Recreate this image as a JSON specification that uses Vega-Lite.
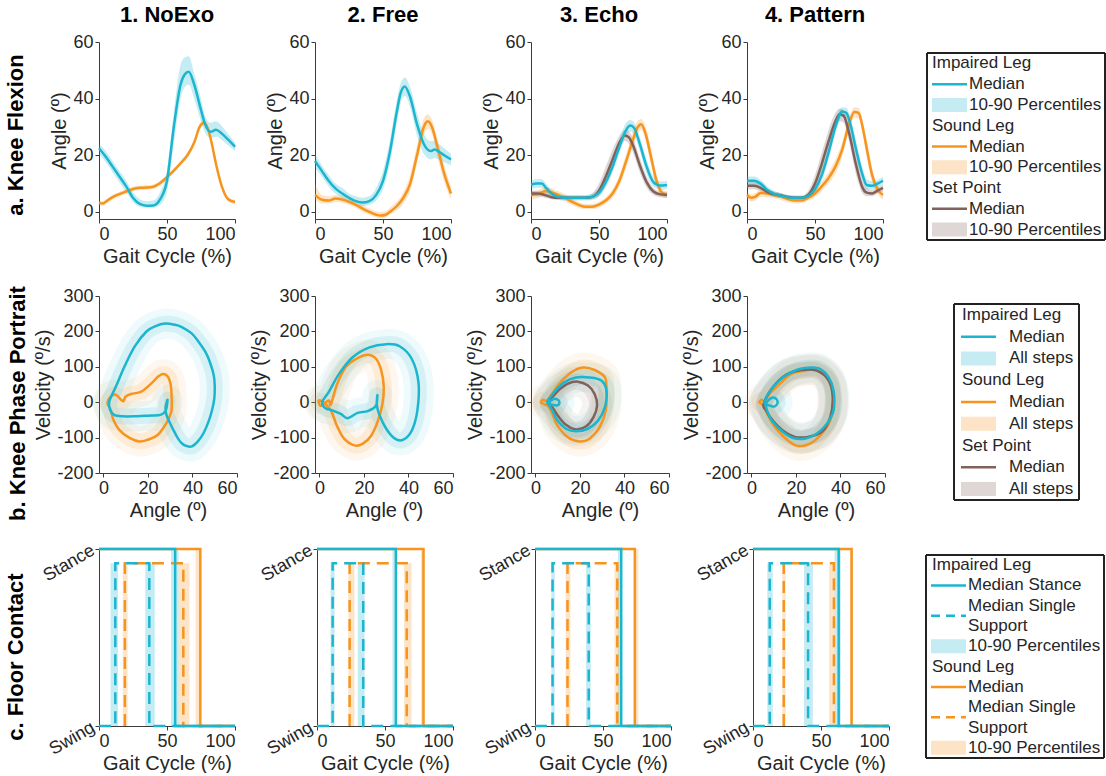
{
"$schema": "https://vega.github.io/schema/vega-lite/v6.json",
"background": "white",
"padding": {"left": 4, "top": 4, "right": 0, "bottom": 0},
"config": {
 "font": "Liberation Sans",
 "view": {"stroke": null},
 "axis": {"grid": false, "domainColor": "#3a3a3a", "tickColor": "#3a3a3a", "tickSize": 4, "labelColor": "#262626", "titleColor": "#262626", "labelFontSize": 18, "titleFontSize": 20, "titleFontWeight": "normal", "labelPadding": 2, "titlePadding": 3, "labelFont": "Liberation Sans", "titleFont": "Liberation Sans"},
 "title": {"font": "Liberation Sans", "fontSize": 22, "fontWeight": "bold", "color": "#000000"},
 "text": {"font": "Liberation Sans"}
},
"datasets": {
 "kf": [
  {"p":"1. NoExo","s":"Sound","x":0,"y":3.2,"lo":2.4,"hi":4},
  {"p":"1. NoExo","s":"Sound","x":3,"y":3.0,"lo":2.2,"hi":3.8},
  {"p":"1. NoExo","s":"Sound","x":5,"y":3.6,"lo":2.8,"hi":4.4},
  {"p":"1. NoExo","s":"Sound","x":10,"y":5.2,"lo":4.4,"hi":6},
  {"p":"1. NoExo","s":"Sound","x":15,"y":6.3,"lo":5.5,"hi":7.1},
  {"p":"1. NoExo","s":"Sound","x":20,"y":7.2,"lo":6.4,"hi":8},
  {"p":"1. NoExo","s":"Sound","x":25,"y":8.1,"lo":7.3,"hi":8.9},
  {"p":"1. NoExo","s":"Sound","x":30,"y":8.5,"lo":7.7,"hi":9.3},
  {"p":"1. NoExo","s":"Sound","x":35,"y":8.6,"lo":7.8,"hi":9.4},
  {"p":"1. NoExo","s":"Sound","x":40,"y":8.9,"lo":8.1,"hi":9.7},
  {"p":"1. NoExo","s":"Sound","x":45,"y":10.2,"lo":9.4,"hi":11},
  {"p":"1. NoExo","s":"Sound","x":50,"y":12.3,"lo":11.5,"hi":13.1},
  {"p":"1. NoExo","s":"Sound","x":55,"y":14.6,"lo":13.8,"hi":15.4},
  {"p":"1. NoExo","s":"Sound","x":60,"y":17.2,"lo":16.4,"hi":18},
  {"p":"1. NoExo","s":"Sound","x":65,"y":20,"lo":19.2,"hi":20.8},
  {"p":"1. NoExo","s":"Sound","x":70,"y":24.5,"lo":23.5,"hi":25.5},
  {"p":"1. NoExo","s":"Sound","x":74,"y":30,"lo":29,"hi":31},
  {"p":"1. NoExo","s":"Sound","x":77,"y":31.5,"lo":30.5,"hi":32.5},
  {"p":"1. NoExo","s":"Sound","x":80,"y":29.5,"lo":28.5,"hi":30.5},
  {"p":"1. NoExo","s":"Sound","x":83,"y":24,"lo":23,"hi":25},
  {"p":"1. NoExo","s":"Sound","x":86,"y":17,"lo":16,"hi":18},
  {"p":"1. NoExo","s":"Sound","x":90,"y":9.5,"lo":8.7,"hi":10.3},
  {"p":"1. NoExo","s":"Sound","x":95,"y":4.5,"lo":3.7,"hi":5.3},
  {"p":"1. NoExo","s":"Sound","x":100,"y":3.5,"lo":2.7,"hi":4.3},
  {"p":"1. NoExo","s":"Impaired","x":0,"y":22.5,"lo":20.5,"hi":24},
  {"p":"1. NoExo","s":"Impaired","x":5,"y":19.5,"lo":17.5,"hi":21.5},
  {"p":"1. NoExo","s":"Impaired","x":10,"y":16,"lo":14,"hi":18},
  {"p":"1. NoExo","s":"Impaired","x":15,"y":12.5,"lo":10.5,"hi":14.5},
  {"p":"1. NoExo","s":"Impaired","x":20,"y":9,"lo":7,"hi":11},
  {"p":"1. NoExo","s":"Impaired","x":25,"y":5,"lo":3.5,"hi":7},
  {"p":"1. NoExo","s":"Impaired","x":30,"y":2.8,"lo":1.8,"hi":4.5},
  {"p":"1. NoExo","s":"Impaired","x":35,"y":2.2,"lo":1.5,"hi":3.8},
  {"p":"1. NoExo","s":"Impaired","x":40,"y":2.3,"lo":1.5,"hi":4},
  {"p":"1. NoExo","s":"Impaired","x":45,"y":4.5,"lo":2.5,"hi":7},
  {"p":"1. NoExo","s":"Impaired","x":50,"y":11,"lo":7,"hi":15},
  {"p":"1. NoExo","s":"Impaired","x":55,"y":30,"lo":24,"hi":35},
  {"p":"1. NoExo","s":"Impaired","x":60,"y":45,"lo":40,"hi":52},
  {"p":"1. NoExo","s":"Impaired","x":63,"y":48.5,"lo":44,"hi":54.5},
  {"p":"1. NoExo","s":"Impaired","x":66,"y":49.5,"lo":45,"hi":55},
  {"p":"1. NoExo","s":"Impaired","x":70,"y":45,"lo":40,"hi":49},
  {"p":"1. NoExo","s":"Impaired","x":75,"y":36,"lo":32,"hi":40},
  {"p":"1. NoExo","s":"Impaired","x":78,"y":31,"lo":28,"hi":34},
  {"p":"1. NoExo","s":"Impaired","x":82,"y":28.3,"lo":26,"hi":31.5},
  {"p":"1. NoExo","s":"Impaired","x":86,"y":29,"lo":26.5,"hi":32},
  {"p":"1. NoExo","s":"Impaired","x":90,"y":27.8,"lo":25.5,"hi":30.5},
  {"p":"1. NoExo","s":"Impaired","x":95,"y":25.5,"lo":23.5,"hi":27.5},
  {"p":"1. NoExo","s":"Impaired","x":100,"y":23,"lo":21.5,"hi":24.5},

  {"p":"2. Free","s":"Sound","x":0,"y":6,"lo":4.5,"hi":10},
  {"p":"2. Free","s":"Sound","x":5,"y":4.3,"lo":3,"hi":6},
  {"p":"2. Free","s":"Sound","x":10,"y":4,"lo":3,"hi":5.5},
  {"p":"2. Free","s":"Sound","x":15,"y":4.7,"lo":3.5,"hi":6},
  {"p":"2. Free","s":"Sound","x":20,"y":4.4,"lo":3.2,"hi":5.7},
  {"p":"2. Free","s":"Sound","x":25,"y":3.6,"lo":2.5,"hi":5},
  {"p":"2. Free","s":"Sound","x":30,"y":2.5,"lo":1.5,"hi":3.8},
  {"p":"2. Free","s":"Sound","x":35,"y":1.2,"lo":0,"hi":2.5},
  {"p":"2. Free","s":"Sound","x":40,"y":0,"lo":-1,"hi":1.2},
  {"p":"2. Free","s":"Sound","x":45,"y":-1,"lo":-2,"hi":0.2},
  {"p":"2. Free","s":"Sound","x":48,"y":-1.3,"lo":-2.3,"hi":0},
  {"p":"2. Free","s":"Sound","x":52,"y":-1,"lo":-2,"hi":0.3},
  {"p":"2. Free","s":"Sound","x":55,"y":0,"lo":-1,"hi":1.5},
  {"p":"2. Free","s":"Sound","x":60,"y":2,"lo":0.5,"hi":3.5},
  {"p":"2. Free","s":"Sound","x":65,"y":5,"lo":3,"hi":7},
  {"p":"2. Free","s":"Sound","x":70,"y":10,"lo":7.5,"hi":13},
  {"p":"2. Free","s":"Sound","x":75,"y":20,"lo":17,"hi":23.5},
  {"p":"2. Free","s":"Sound","x":80,"y":30,"lo":27,"hi":33},
  {"p":"2. Free","s":"Sound","x":83,"y":32,"lo":29.5,"hi":34.5},
  {"p":"2. Free","s":"Sound","x":86,"y":30,"lo":27.5,"hi":32.5},
  {"p":"2. Free","s":"Sound","x":90,"y":23,"lo":19.5,"hi":26},
  {"p":"2. Free","s":"Sound","x":95,"y":13.5,"lo":10.5,"hi":16.5},
  {"p":"2. Free","s":"Sound","x":100,"y":6.5,"lo":4.5,"hi":9},
  {"p":"2. Free","s":"Impaired","x":0,"y":18,"lo":15.5,"hi":20.5},
  {"p":"2. Free","s":"Impaired","x":5,"y":14.5,"lo":12.5,"hi":16.5},
  {"p":"2. Free","s":"Impaired","x":10,"y":11,"lo":9,"hi":13},
  {"p":"2. Free","s":"Impaired","x":15,"y":8.3,"lo":6.5,"hi":10},
  {"p":"2. Free","s":"Impaired","x":20,"y":6.5,"lo":5,"hi":8.5},
  {"p":"2. Free","s":"Impaired","x":25,"y":5,"lo":3.5,"hi":6.5},
  {"p":"2. Free","s":"Impaired","x":30,"y":3.8,"lo":2.5,"hi":5.5},
  {"p":"2. Free","s":"Impaired","x":35,"y":3.3,"lo":2,"hi":5},
  {"p":"2. Free","s":"Impaired","x":40,"y":3.8,"lo":2.5,"hi":5.5},
  {"p":"2. Free","s":"Impaired","x":45,"y":6,"lo":4,"hi":8.5},
  {"p":"2. Free","s":"Impaired","x":50,"y":11,"lo":8,"hi":14.5},
  {"p":"2. Free","s":"Impaired","x":55,"y":21,"lo":17,"hi":25},
  {"p":"2. Free","s":"Impaired","x":60,"y":35,"lo":31,"hi":39},
  {"p":"2. Free","s":"Impaired","x":63,"y":42,"lo":38.5,"hi":45.5},
  {"p":"2. Free","s":"Impaired","x":66,"y":44.3,"lo":41,"hi":47.5},
  {"p":"2. Free","s":"Impaired","x":70,"y":40.5,"lo":37,"hi":44},
  {"p":"2. Free","s":"Impaired","x":75,"y":31,"lo":27,"hi":35},
  {"p":"2. Free","s":"Impaired","x":80,"y":24,"lo":20.5,"hi":27.5},
  {"p":"2. Free","s":"Impaired","x":85,"y":21.5,"lo":18.5,"hi":25},
  {"p":"2. Free","s":"Impaired","x":88,"y":22,"lo":19,"hi":25},
  {"p":"2. Free","s":"Impaired","x":91,"y":21.3,"lo":18.5,"hi":24},
  {"p":"2. Free","s":"Impaired","x":95,"y":20,"lo":17.5,"hi":22.5},
  {"p":"2. Free","s":"Impaired","x":100,"y":18.5,"lo":16.5,"hi":20.5},

  {"p":"3. Echo","s":"Sound","x":0,"y":6,"lo":4.5,"hi":7.5},
  {"p":"3. Echo","s":"Sound","x":5,"y":6.2,"lo":4.8,"hi":7.6},
  {"p":"3. Echo","s":"Sound","x":10,"y":7.3,"lo":6,"hi":8.7},
  {"p":"3. Echo","s":"Sound","x":15,"y":7,"lo":5.6,"hi":8.4},
  {"p":"3. Echo","s":"Sound","x":20,"y":6,"lo":4.7,"hi":7.3},
  {"p":"3. Echo","s":"Sound","x":25,"y":5,"lo":3.7,"hi":6.3},
  {"p":"3. Echo","s":"Sound","x":30,"y":3.6,"lo":2.4,"hi":4.8},
  {"p":"3. Echo","s":"Sound","x":35,"y":2.5,"lo":1.5,"hi":3.5},
  {"p":"3. Echo","s":"Sound","x":40,"y":1.8,"lo":1,"hi":2.8},
  {"p":"3. Echo","s":"Sound","x":45,"y":1.8,"lo":1,"hi":2.8},
  {"p":"3. Echo","s":"Sound","x":50,"y":2.6,"lo":1.6,"hi":3.6},
  {"p":"3. Echo","s":"Sound","x":55,"y":4,"lo":2.8,"hi":5.2},
  {"p":"3. Echo","s":"Sound","x":60,"y":6.5,"lo":5,"hi":8},
  {"p":"3. Echo","s":"Sound","x":65,"y":11,"lo":9,"hi":13},
  {"p":"3. Echo","s":"Sound","x":70,"y":18,"lo":15.5,"hi":20.5},
  {"p":"3. Echo","s":"Sound","x":75,"y":25.5,"lo":23,"hi":28},
  {"p":"3. Echo","s":"Sound","x":78,"y":29.5,"lo":27,"hi":31.8},
  {"p":"3. Echo","s":"Sound","x":81,"y":31,"lo":29,"hi":32.8},
  {"p":"3. Echo","s":"Sound","x":84,"y":28,"lo":25.5,"hi":30.5},
  {"p":"3. Echo","s":"Sound","x":88,"y":20,"lo":17,"hi":23},
  {"p":"3. Echo","s":"Sound","x":92,"y":11.5,"lo":9.5,"hi":14},
  {"p":"3. Echo","s":"Sound","x":96,"y":7,"lo":5.5,"hi":8.5},
  {"p":"3. Echo","s":"Sound","x":100,"y":6,"lo":4.8,"hi":7.2},
  {"p":"3. Echo","s":"SetPoint","x":0,"y":6.5,"lo":5.5,"hi":7.5},
  {"p":"3. Echo","s":"SetPoint","x":5,"y":6.5,"lo":5.5,"hi":7.5},
  {"p":"3. Echo","s":"SetPoint","x":10,"y":6,"lo":5,"hi":7},
  {"p":"3. Echo","s":"SetPoint","x":15,"y":5.2,"lo":4.5,"hi":6},
  {"p":"3. Echo","s":"SetPoint","x":20,"y":5,"lo":4.3,"hi":5.7},
  {"p":"3. Echo","s":"SetPoint","x":30,"y":5,"lo":4.3,"hi":5.7},
  {"p":"3. Echo","s":"SetPoint","x":40,"y":5,"lo":4.3,"hi":5.7},
  {"p":"3. Echo","s":"SetPoint","x":45,"y":5.3,"lo":4.5,"hi":6.5},
  {"p":"3. Echo","s":"SetPoint","x":50,"y":7.5,"lo":5.5,"hi":10},
  {"p":"3. Echo","s":"SetPoint","x":55,"y":12.5,"lo":9.5,"hi":16},
  {"p":"3. Echo","s":"SetPoint","x":60,"y":18.5,"lo":15.5,"hi":22},
  {"p":"3. Echo","s":"SetPoint","x":65,"y":24.5,"lo":22,"hi":27},
  {"p":"3. Echo","s":"SetPoint","x":69,"y":27,"lo":25,"hi":29},
  {"p":"3. Echo","s":"SetPoint","x":72,"y":26.3,"lo":24,"hi":28.5},
  {"p":"3. Echo","s":"SetPoint","x":75,"y":23.5,"lo":21,"hi":26},
  {"p":"3. Echo","s":"SetPoint","x":80,"y":16.5,"lo":14,"hi":19},
  {"p":"3. Echo","s":"SetPoint","x":85,"y":10.5,"lo":8.5,"hi":12.5},
  {"p":"3. Echo","s":"SetPoint","x":90,"y":7.2,"lo":6,"hi":8.5},
  {"p":"3. Echo","s":"SetPoint","x":95,"y":6.2,"lo":5.2,"hi":7.2},
  {"p":"3. Echo","s":"SetPoint","x":100,"y":6,"lo":5,"hi":7},
  {"p":"3. Echo","s":"Impaired","x":0,"y":9.6,"lo":8,"hi":11},
  {"p":"3. Echo","s":"Impaired","x":4,"y":10,"lo":8.5,"hi":11.5},
  {"p":"3. Echo","s":"Impaired","x":8,"y":10,"lo":8.5,"hi":11.5},
  {"p":"3. Echo","s":"Impaired","x":11,"y":8.5,"lo":7,"hi":10},
  {"p":"3. Echo","s":"Impaired","x":15,"y":6.5,"lo":5.2,"hi":7.8},
  {"p":"3. Echo","s":"Impaired","x":20,"y":5.3,"lo":4.3,"hi":6.5},
  {"p":"3. Echo","s":"Impaired","x":25,"y":5,"lo":4,"hi":6},
  {"p":"3. Echo","s":"Impaired","x":30,"y":5,"lo":4,"hi":6},
  {"p":"3. Echo","s":"Impaired","x":35,"y":5,"lo":4,"hi":6},
  {"p":"3. Echo","s":"Impaired","x":40,"y":5,"lo":4,"hi":6},
  {"p":"3. Echo","s":"Impaired","x":45,"y":5.3,"lo":4.2,"hi":6.5},
  {"p":"3. Echo","s":"Impaired","x":50,"y":6.8,"lo":5.5,"hi":8.5},
  {"p":"3. Echo","s":"Impaired","x":55,"y":10.5,"lo":8.5,"hi":12.5},
  {"p":"3. Echo","s":"Impaired","x":60,"y":16,"lo":14,"hi":18.5},
  {"p":"3. Echo","s":"Impaired","x":65,"y":23,"lo":20.5,"hi":25.5},
  {"p":"3. Echo","s":"Impaired","x":70,"y":29,"lo":27,"hi":31.5},
  {"p":"3. Echo","s":"Impaired","x":73,"y":30.5,"lo":28.5,"hi":32.5},
  {"p":"3. Echo","s":"Impaired","x":76,"y":29.5,"lo":27,"hi":31.5},
  {"p":"3. Echo","s":"Impaired","x":80,"y":24,"lo":21.5,"hi":26.5},
  {"p":"3. Echo","s":"Impaired","x":85,"y":16,"lo":13.5,"hi":18.5},
  {"p":"3. Echo","s":"Impaired","x":90,"y":10.5,"lo":9,"hi":12.5},
  {"p":"3. Echo","s":"Impaired","x":95,"y":9.3,"lo":8,"hi":10.8},
  {"p":"3. Echo","s":"Impaired","x":100,"y":9.5,"lo":8,"hi":11},

  {"p":"4. Pattern","s":"Sound","x":0,"y":6,"lo":4.5,"hi":7.5},
  {"p":"4. Pattern","s":"Sound","x":3,"y":5,"lo":3.8,"hi":6.2},
  {"p":"4. Pattern","s":"Sound","x":6,"y":5.3,"lo":4,"hi":6.6},
  {"p":"4. Pattern","s":"Sound","x":10,"y":6.7,"lo":5.4,"hi":8},
  {"p":"4. Pattern","s":"Sound","x":15,"y":6.5,"lo":5.2,"hi":7.8},
  {"p":"4. Pattern","s":"Sound","x":20,"y":6,"lo":4.8,"hi":7.2},
  {"p":"4. Pattern","s":"Sound","x":25,"y":5.4,"lo":4.2,"hi":6.6},
  {"p":"4. Pattern","s":"Sound","x":30,"y":4.5,"lo":3.4,"hi":5.7},
  {"p":"4. Pattern","s":"Sound","x":35,"y":4,"lo":3,"hi":5},
  {"p":"4. Pattern","s":"Sound","x":40,"y":4,"lo":3,"hi":5},
  {"p":"4. Pattern","s":"Sound","x":45,"y":5,"lo":4,"hi":6.2},
  {"p":"4. Pattern","s":"Sound","x":50,"y":6.5,"lo":5.2,"hi":8},
  {"p":"4. Pattern","s":"Sound","x":55,"y":9,"lo":7.3,"hi":10.8},
  {"p":"4. Pattern","s":"Sound","x":60,"y":12,"lo":10,"hi":14},
  {"p":"4. Pattern","s":"Sound","x":65,"y":16,"lo":13.5,"hi":18.5},
  {"p":"4. Pattern","s":"Sound","x":70,"y":22,"lo":19.5,"hi":24.5},
  {"p":"4. Pattern","s":"Sound","x":75,"y":31,"lo":28.5,"hi":33.3},
  {"p":"4. Pattern","s":"Sound","x":79,"y":35.3,"lo":33.3,"hi":37},
  {"p":"4. Pattern","s":"Sound","x":82,"y":35,"lo":33,"hi":36.8},
  {"p":"4. Pattern","s":"Sound","x":85,"y":30,"lo":27.5,"hi":32.5},
  {"p":"4. Pattern","s":"Sound","x":88,"y":22.5,"lo":19.5,"hi":25.5},
  {"p":"4. Pattern","s":"Sound","x":92,"y":13,"lo":10.5,"hi":15.5},
  {"p":"4. Pattern","s":"Sound","x":96,"y":8,"lo":6.3,"hi":9.7},
  {"p":"4. Pattern","s":"Sound","x":100,"y":6,"lo":4.5,"hi":7.5},
  {"p":"4. Pattern","s":"SetPoint","x":0,"y":9.2,"lo":8,"hi":10.5},
  {"p":"4. Pattern","s":"SetPoint","x":5,"y":9.2,"lo":8,"hi":10.5},
  {"p":"4. Pattern","s":"SetPoint","x":10,"y":8.5,"lo":7.3,"hi":9.7},
  {"p":"4. Pattern","s":"SetPoint","x":15,"y":7,"lo":6,"hi":8},
  {"p":"4. Pattern","s":"SetPoint","x":20,"y":6.2,"lo":5.3,"hi":7.1},
  {"p":"4. Pattern","s":"SetPoint","x":25,"y":5.8,"lo":5,"hi":6.6},
  {"p":"4. Pattern","s":"SetPoint","x":30,"y":5.3,"lo":4.6,"hi":6},
  {"p":"4. Pattern","s":"SetPoint","x":35,"y":5,"lo":4.3,"hi":5.7},
  {"p":"4. Pattern","s":"SetPoint","x":40,"y":5,"lo":4.3,"hi":5.7},
  {"p":"4. Pattern","s":"SetPoint","x":45,"y":6,"lo":4.8,"hi":7.5},
  {"p":"4. Pattern","s":"SetPoint","x":50,"y":10,"lo":7.5,"hi":13},
  {"p":"4. Pattern","s":"SetPoint","x":55,"y":17,"lo":13.5,"hi":21},
  {"p":"4. Pattern","s":"SetPoint","x":60,"y":25,"lo":21,"hi":29},
  {"p":"4. Pattern","s":"SetPoint","x":65,"y":32,"lo":29,"hi":35},
  {"p":"4. Pattern","s":"SetPoint","x":68,"y":34.5,"lo":32,"hi":36.5},
  {"p":"4. Pattern","s":"SetPoint","x":71,"y":34,"lo":31.5,"hi":36},
  {"p":"4. Pattern","s":"SetPoint","x":75,"y":28,"lo":25,"hi":31},
  {"p":"4. Pattern","s":"SetPoint","x":80,"y":17,"lo":13.5,"hi":20.5},
  {"p":"4. Pattern","s":"SetPoint","x":85,"y":8.5,"lo":6.5,"hi":11},
  {"p":"4. Pattern","s":"SetPoint","x":88,"y":6.8,"lo":5.5,"hi":8.5},
  {"p":"4. Pattern","s":"SetPoint","x":92,"y":6.5,"lo":5.5,"hi":7.8},
  {"p":"4. Pattern","s":"SetPoint","x":96,"y":7.5,"lo":6.5,"hi":8.7},
  {"p":"4. Pattern","s":"SetPoint","x":100,"y":8.5,"lo":7.3,"hi":9.7},
  {"p":"4. Pattern","s":"Impaired","x":0,"y":11,"lo":9.5,"hi":12.5},
  {"p":"4. Pattern","s":"Impaired","x":5,"y":11,"lo":9.5,"hi":12.5},
  {"p":"4. Pattern","s":"Impaired","x":10,"y":10,"lo":8.7,"hi":11.3},
  {"p":"4. Pattern","s":"Impaired","x":15,"y":7.7,"lo":6.5,"hi":9},
  {"p":"4. Pattern","s":"Impaired","x":20,"y":6.4,"lo":5.4,"hi":7.4},
  {"p":"4. Pattern","s":"Impaired","x":25,"y":5.7,"lo":4.8,"hi":6.6},
  {"p":"4. Pattern","s":"Impaired","x":30,"y":5.2,"lo":4.4,"hi":6},
  {"p":"4. Pattern","s":"Impaired","x":35,"y":5,"lo":4.2,"hi":5.8},
  {"p":"4. Pattern","s":"Impaired","x":40,"y":5,"lo":4.2,"hi":5.8},
  {"p":"4. Pattern","s":"Impaired","x":45,"y":5.6,"lo":4.6,"hi":6.8},
  {"p":"4. Pattern","s":"Impaired","x":50,"y":8,"lo":6.5,"hi":10},
  {"p":"4. Pattern","s":"Impaired","x":55,"y":13,"lo":11,"hi":15.5},
  {"p":"4. Pattern","s":"Impaired","x":60,"y":21,"lo":18.5,"hi":24},
  {"p":"4. Pattern","s":"Impaired","x":65,"y":30,"lo":27.5,"hi":32.5},
  {"p":"4. Pattern","s":"Impaired","x":70,"y":35.5,"lo":33.5,"hi":37},
  {"p":"4. Pattern","s":"Impaired","x":73,"y":35,"lo":33,"hi":36.8},
  {"p":"4. Pattern","s":"Impaired","x":76,"y":31,"lo":28.5,"hi":33.5},
  {"p":"4. Pattern","s":"Impaired","x":80,"y":22.5,"lo":19.5,"hi":25.5},
  {"p":"4. Pattern","s":"Impaired","x":85,"y":13,"lo":11,"hi":15.5},
  {"p":"4. Pattern","s":"Impaired","x":88,"y":9.5,"lo":8,"hi":11.5},
  {"p":"4. Pattern","s":"Impaired","x":92,"y":9.2,"lo":8,"hi":10.8},
  {"p":"4. Pattern","s":"Impaired","x":96,"y":10,"lo":8.8,"hi":11.3},
  {"p":"4. Pattern","s":"Impaired","x":100,"y":11,"lo":9.8,"hi":12.3}
 ],
 "pp": [
  {"p":"1. NoExo","s":"Sound","i":1,"a":1.8,"v":-3},{"p":"1. NoExo","s":"Sound","i":2,"a":3.3,"v":16},{"p":"1. NoExo","s":"Sound","i":3,"a":5.6,"v":21},{"p":"1. NoExo","s":"Sound","i":4,"a":7.9,"v":7},{"p":"1. NoExo","s":"Sound","i":5,"a":9,"v":3},{"p":"1. NoExo","s":"Sound","i":6,"a":10,"v":16},{"p":"1. NoExo","s":"Sound","i":7,"a":12.4,"v":23},{"p":"1. NoExo","s":"Sound","i":8,"a":17,"v":30},{"p":"1. NoExo","s":"Sound","i":9,"a":21.5,"v":53},{"p":"1. NoExo","s":"Sound","i":10,"a":24.5,"v":72},{"p":"1. NoExo","s":"Sound","i":11,"a":26.8,"v":80},{"p":"1. NoExo","s":"Sound","i":12,"a":29,"v":72},{"p":"1. NoExo","s":"Sound","i":13,"a":30.2,"v":50},{"p":"1. NoExo","s":"Sound","i":14,"a":30.6,"v":20},{"p":"1. NoExo","s":"Sound","i":15,"a":30.6,"v":-22},{"p":"1. NoExo","s":"Sound","i":16,"a":29.6,"v":-42},{"p":"1. NoExo","s":"Sound","i":17,"a":28.3,"v":-59},{"p":"1. NoExo","s":"Sound","i":18,"a":24.5,"v":-92},{"p":"1. NoExo","s":"Sound","i":19,"a":20,"v":-106},{"p":"1. NoExo","s":"Sound","i":20,"a":16.2,"v":-111},{"p":"1. NoExo","s":"Sound","i":21,"a":11.7,"v":-101},{"p":"1. NoExo","s":"Sound","i":22,"a":7.1,"v":-78},{"p":"1. NoExo","s":"Sound","i":23,"a":4.5,"v":-50},{"p":"1. NoExo","s":"Sound","i":24,"a":3.3,"v":-22},
  {"p":"1. NoExo","s":"Impaired","i":1,"a":2.6,"v":2},{"p":"1. NoExo","s":"Impaired","i":2,"a":5.6,"v":44},{"p":"1. NoExo","s":"Impaired","i":3,"a":9.4,"v":100},{"p":"1. NoExo","s":"Impaired","i":4,"a":14,"v":157},{"p":"1. NoExo","s":"Impaired","i":5,"a":19.2,"v":199},{"p":"1. NoExo","s":"Impaired","i":6,"a":23.5,"v":215},{"p":"1. NoExo","s":"Impaired","i":7,"a":27.6,"v":222},{"p":"1. NoExo","s":"Impaired","i":8,"a":32,"v":219},{"p":"1. NoExo","s":"Impaired","i":9,"a":35,"v":213},{"p":"1. NoExo","s":"Impaired","i":10,"a":39.5,"v":195},{"p":"1. NoExo","s":"Impaired","i":11,"a":42.7,"v":171},{"p":"1. NoExo","s":"Impaired","i":12,"a":46,"v":140},{"p":"1. NoExo","s":"Impaired","i":13,"a":48,"v":110},{"p":"1. NoExo","s":"Impaired","i":14,"a":49.6,"v":75},{"p":"1. NoExo","s":"Impaired","i":15,"a":50,"v":44},{"p":"1. NoExo","s":"Impaired","i":16,"a":49.8,"v":10},{"p":"1. NoExo","s":"Impaired","i":17,"a":48.8,"v":-22},{"p":"1. NoExo","s":"Impaired","i":18,"a":47.2,"v":-55},{"p":"1. NoExo","s":"Impaired","i":19,"a":45,"v":-87},{"p":"1. NoExo","s":"Impaired","i":20,"a":42.5,"v":-110},{"p":"1. NoExo","s":"Impaired","i":21,"a":39.7,"v":-125},{"p":"1. NoExo","s":"Impaired","i":22,"a":37,"v":-123},{"p":"1. NoExo","s":"Impaired","i":23,"a":35,"v":-115},{"p":"1. NoExo","s":"Impaired","i":24,"a":33,"v":-97},{"p":"1. NoExo","s":"Impaired","i":25,"a":31.4,"v":-78},{"p":"1. NoExo","s":"Impaired","i":26,"a":29.6,"v":-55},{"p":"1. NoExo","s":"Impaired","i":27,"a":28.3,"v":-36},{"p":"1. NoExo","s":"Impaired","i":28,"a":27.9,"v":-15},{"p":"1. NoExo","s":"Impaired","i":29,"a":28.8,"v":7},{"p":"1. NoExo","s":"Impaired","i":30,"a":28.2,"v":-20},{"p":"1. NoExo","s":"Impaired","i":31,"a":27.2,"v":-30},{"p":"1. NoExo","s":"Impaired","i":32,"a":25.3,"v":-36},{"p":"1. NoExo","s":"Impaired","i":33,"a":20,"v":-38},{"p":"1. NoExo","s":"Impaired","i":34,"a":14,"v":-40},{"p":"1. NoExo","s":"Impaired","i":35,"a":8.6,"v":-40},{"p":"1. NoExo","s":"Impaired","i":36,"a":4.8,"v":-36},{"p":"1. NoExo","s":"Impaired","i":37,"a":3,"v":-22},
  {"p":"2. Free","s":"Sound","i":1,"a":-0.3,"v":5},{"p":"2. Free","s":"Sound","i":2,"a":0.2,"v":-9},{"p":"2. Free","s":"Sound","i":3,"a":1.5,"v":-8},{"p":"2. Free","s":"Sound","i":4,"a":2.5,"v":-2},{"p":"2. Free","s":"Sound","i":5,"a":4.3,"v":5},{"p":"2. Free","s":"Sound","i":6,"a":4.8,"v":-8},{"p":"2. Free","s":"Sound","i":7,"a":5.5,"v":0},{"p":"2. Free","s":"Sound","i":8,"a":8,"v":52},{"p":"2. Free","s":"Sound","i":9,"a":11.9,"v":100},{"p":"2. Free","s":"Sound","i":10,"a":16.4,"v":122},{"p":"2. Free","s":"Sound","i":11,"a":21.7,"v":134},{"p":"2. Free","s":"Sound","i":12,"a":25.5,"v":122},{"p":"2. Free","s":"Sound","i":13,"a":27.8,"v":89},{"p":"2. Free","s":"Sound","i":14,"a":28.9,"v":42},{"p":"2. Free","s":"Sound","i":15,"a":28.3,"v":-5},{"p":"2. Free","s":"Sound","i":16,"a":26.3,"v":-52},{"p":"2. Free","s":"Sound","i":17,"a":23.3,"v":-94},{"p":"2. Free","s":"Sound","i":18,"a":19.5,"v":-117},{"p":"2. Free","s":"Sound","i":19,"a":15.7,"v":-122},{"p":"2. Free","s":"Sound","i":20,"a":11.1,"v":-103},{"p":"2. Free","s":"Sound","i":21,"a":7.8,"v":-66},{"p":"2. Free","s":"Sound","i":22,"a":5.5,"v":-28},{"p":"2. Free","s":"Sound","i":23,"a":2.7,"v":-5},
  {"p":"2. Free","s":"Impaired","i":1,"a":1.2,"v":0},{"p":"2. Free","s":"Impaired","i":2,"a":4.3,"v":30},{"p":"2. Free","s":"Impaired","i":3,"a":8.8,"v":80},{"p":"2. Free","s":"Impaired","i":4,"a":14.9,"v":127},{"p":"2. Free","s":"Impaired","i":5,"a":22.5,"v":155},{"p":"2. Free","s":"Impaired","i":6,"a":30,"v":164},{"p":"2. Free","s":"Impaired","i":7,"a":36,"v":158},{"p":"2. Free","s":"Impaired","i":8,"a":41.5,"v":122},{"p":"2. Free","s":"Impaired","i":9,"a":44.5,"v":55},{"p":"2. Free","s":"Impaired","i":10,"a":44,"v":-23},{"p":"2. Free","s":"Impaired","i":11,"a":41.5,"v":-80},{"p":"2. Free","s":"Impaired","i":12,"a":37.7,"v":-106},{"p":"2. Free","s":"Impaired","i":13,"a":33.9,"v":-103},{"p":"2. Free","s":"Impaired","i":14,"a":30,"v":-75},{"p":"2. Free","s":"Impaired","i":15,"a":27,"v":-37},{"p":"2. Free","s":"Impaired","i":16,"a":25.8,"v":-8},{"p":"2. Free","s":"Impaired","i":17,"a":26,"v":20},{"p":"2. Free","s":"Impaired","i":18,"a":25.4,"v":-10},{"p":"2. Free","s":"Impaired","i":19,"a":21.7,"v":-25},{"p":"2. Free","s":"Impaired","i":20,"a":17.2,"v":-30},{"p":"2. Free","s":"Impaired","i":21,"a":12.6,"v":-45},{"p":"2. Free","s":"Impaired","i":22,"a":9.6,"v":-33},{"p":"2. Free","s":"Impaired","i":23,"a":5.8,"v":-23},{"p":"2. Free","s":"Impaired","i":24,"a":2.7,"v":-17},
  {"p":"3. Echo","s":"Sound","i":1,"a":2.5,"v":0},{"p":"3. Echo","s":"Sound","i":2,"a":3.5,"v":7},{"p":"3. Echo","s":"Sound","i":3,"a":5,"v":4},{"p":"3. Echo","s":"Sound","i":4,"a":7,"v":20},{"p":"3. Echo","s":"Sound","i":5,"a":10.6,"v":52},{"p":"3. Echo","s":"Sound","i":6,"a":16,"v":84},{"p":"3. Echo","s":"Sound","i":7,"a":21.3,"v":98},{"p":"3. Echo","s":"Sound","i":8,"a":26.6,"v":91},{"p":"3. Echo","s":"Sound","i":9,"a":31.2,"v":70},{"p":"3. Echo","s":"Sound","i":10,"a":31.9,"v":33},{"p":"3. Echo","s":"Sound","i":11,"a":31.6,"v":-23},{"p":"3. Echo","s":"Sound","i":12,"a":28.9,"v":-70},{"p":"3. Echo","s":"Sound","i":13,"a":24.3,"v":-103},{"p":"3. Echo","s":"Sound","i":14,"a":19.8,"v":-111},{"p":"3. Echo","s":"Sound","i":15,"a":14.4,"v":-98},{"p":"3. Echo","s":"Sound","i":16,"a":9.9,"v":-66},{"p":"3. Echo","s":"Sound","i":17,"a":7.6,"v":-33},{"p":"3. Echo","s":"Sound","i":18,"a":5.8,"v":-12},{"p":"3. Echo","s":"Sound","i":19,"a":4,"v":-6},
  {"p":"3. Echo","s":"SetPoint","i":1,"a":5.5,"v":0},{"p":"3. Echo","s":"SetPoint","i":2,"a":8.4,"v":20},{"p":"3. Echo","s":"SetPoint","i":3,"a":10.6,"v":35},{"p":"3. Echo","s":"SetPoint","i":4,"a":14.4,"v":52},{"p":"3. Echo","s":"SetPoint","i":5,"a":19,"v":58},{"p":"3. Echo","s":"SetPoint","i":6,"a":23.6,"v":47},{"p":"3. Echo","s":"SetPoint","i":7,"a":26.6,"v":23},{"p":"3. Echo","s":"SetPoint","i":8,"a":27.7,"v":-9},{"p":"3. Echo","s":"SetPoint","i":9,"a":26.1,"v":-42},{"p":"3. Echo","s":"SetPoint","i":10,"a":22.8,"v":-68},{"p":"3. Echo","s":"SetPoint","i":11,"a":18.2,"v":-77},{"p":"3. Echo","s":"SetPoint","i":12,"a":13.7,"v":-64},{"p":"3. Echo","s":"SetPoint","i":13,"a":10.3,"v":-40},{"p":"3. Echo","s":"SetPoint","i":14,"a":8,"v":-18},
  {"p":"3. Echo","s":"Impaired","i":1,"a":5.3,"v":0},{"p":"3. Echo","s":"Impaired","i":2,"a":8.4,"v":28},{"p":"3. Echo","s":"Impaired","i":3,"a":12.9,"v":56},{"p":"3. Echo","s":"Impaired","i":4,"a":18.2,"v":70},{"p":"3. Echo","s":"Impaired","i":5,"a":24.3,"v":70},{"p":"3. Echo","s":"Impaired","i":6,"a":29.6,"v":61},{"p":"3. Echo","s":"Impaired","i":7,"a":31.9,"v":33},{"p":"3. Echo","s":"Impaired","i":8,"a":31.2,"v":-14},{"p":"3. Echo","s":"Impaired","i":9,"a":28.1,"v":-52},{"p":"3. Echo","s":"Impaired","i":10,"a":23.6,"v":-75},{"p":"3. Echo","s":"Impaired","i":11,"a":18.2,"v":-82},{"p":"3. Echo","s":"Impaired","i":12,"a":13.7,"v":-75},{"p":"3. Echo","s":"Impaired","i":13,"a":9.9,"v":-52},{"p":"3. Echo","s":"Impaired","i":14,"a":7.6,"v":-23},{"p":"3. Echo","s":"Impaired","i":15,"a":6,"v":-5},{"p":"3. Echo","s":"Impaired","i":16,"a":7.8,"v":8},{"p":"3. Echo","s":"Impaired","i":17,"a":9.8,"v":8},{"p":"3. Echo","s":"Impaired","i":18,"a":10.8,"v":0},{"p":"3. Echo","s":"Impaired","i":19,"a":9.8,"v":-9},{"p":"3. Echo","s":"Impaired","i":20,"a":7.5,"v":-7},
  {"p":"4. Pattern","s":"Sound","i":1,"a":3.5,"v":0},{"p":"4. Pattern","s":"Sound","i":2,"a":4.5,"v":7},{"p":"4. Pattern","s":"Sound","i":3,"a":5.8,"v":4},{"p":"4. Pattern","s":"Sound","i":4,"a":8.8,"v":28},{"p":"4. Pattern","s":"Sound","i":5,"a":11.9,"v":47},{"p":"4. Pattern","s":"Sound","i":6,"a":17.9,"v":80},{"p":"4. Pattern","s":"Sound","i":7,"a":24,"v":89},{"p":"4. Pattern","s":"Sound","i":8,"a":28.6,"v":94},{"p":"4. Pattern","s":"Sound","i":9,"a":32,"v":85},{"p":"4. Pattern","s":"Sound","i":10,"a":35.4,"v":61},{"p":"4. Pattern","s":"Sound","i":11,"a":36.9,"v":5},{"p":"4. Pattern","s":"Sound","i":12,"a":35.4,"v":-52},{"p":"4. Pattern","s":"Sound","i":13,"a":31.6,"v":-89},{"p":"4. Pattern","s":"Sound","i":14,"a":26.3,"v":-117},{"p":"4. Pattern","s":"Sound","i":15,"a":21,"v":-124},{"p":"4. Pattern","s":"Sound","i":16,"a":16.4,"v":-108},{"p":"4. Pattern","s":"Sound","i":17,"a":11.1,"v":-75},{"p":"4. Pattern","s":"Sound","i":18,"a":7.8,"v":-42},{"p":"4. Pattern","s":"Sound","i":19,"a":5.8,"v":-14},{"p":"4. Pattern","s":"Sound","i":20,"a":4.5,"v":-5},
  {"p":"4. Pattern","s":"SetPoint","i":1,"a":5.5,"v":-5},{"p":"4. Pattern","s":"SetPoint","i":2,"a":9.6,"v":42},{"p":"4. Pattern","s":"SetPoint","i":3,"a":15.7,"v":78},{"p":"4. Pattern","s":"SetPoint","i":4,"a":22.5,"v":91},{"p":"4. Pattern","s":"SetPoint","i":5,"a":29.3,"v":89},{"p":"4. Pattern","s":"SetPoint","i":6,"a":34.7,"v":61},{"p":"4. Pattern","s":"SetPoint","i":7,"a":36.5,"v":14},{"p":"4. Pattern","s":"SetPoint","i":8,"a":35.4,"v":-42},{"p":"4. Pattern","s":"SetPoint","i":9,"a":31.6,"v":-84},{"p":"4. Pattern","s":"SetPoint","i":10,"a":25.5,"v":-98},{"p":"4. Pattern","s":"SetPoint","i":11,"a":19.5,"v":-98},{"p":"4. Pattern","s":"SetPoint","i":12,"a":14.1,"v":-80},{"p":"4. Pattern","s":"SetPoint","i":13,"a":9.6,"v":-52},{"p":"4. Pattern","s":"SetPoint","i":14,"a":6.5,"v":-23},
  {"p":"4. Pattern","s":"Impaired","i":1,"a":5.8,"v":0},{"p":"4. Pattern","s":"Impaired","i":2,"a":9.6,"v":42},{"p":"4. Pattern","s":"Impaired","i":3,"a":14.1,"v":70},{"p":"4. Pattern","s":"Impaired","i":4,"a":20.2,"v":91},{"p":"4. Pattern","s":"Impaired","i":5,"a":27,"v":98},{"p":"4. Pattern","s":"Impaired","i":6,"a":30.9,"v":94},{"p":"4. Pattern","s":"Impaired","i":7,"a":34.7,"v":70},{"p":"4. Pattern","s":"Impaired","i":8,"a":36.9,"v":33},{"p":"4. Pattern","s":"Impaired","i":9,"a":36.9,"v":-23},{"p":"4. Pattern","s":"Impaired","i":10,"a":33.9,"v":-61},{"p":"4. Pattern","s":"Impaired","i":11,"a":29.3,"v":-89},{"p":"4. Pattern","s":"Impaired","i":12,"a":24,"v":-103},{"p":"4. Pattern","s":"Impaired","i":13,"a":18.7,"v":-101},{"p":"4. Pattern","s":"Impaired","i":14,"a":14.1,"v":-84},{"p":"4. Pattern","s":"Impaired","i":15,"a":9.6,"v":-56},{"p":"4. Pattern","s":"Impaired","i":16,"a":7,"v":-23},{"p":"4. Pattern","s":"Impaired","i":17,"a":6.5,"v":-5},{"p":"4. Pattern","s":"Impaired","i":18,"a":8.5,"v":10},{"p":"4. Pattern","s":"Impaired","i":19,"a":10.5,"v":12},{"p":"4. Pattern","s":"Impaired","i":20,"a":11.8,"v":0},{"p":"4. Pattern","s":"Impaired","i":21,"a":10.5,"v":-12},{"p":"4. Pattern","s":"Impaired","i":22,"a":8.5,"v":-10}
 ],
 "fc": [
  {"p":"1. NoExo","t":"band","s":"Impaired","x":8.5,"x2":14,"y":0.92},
  {"p":"1. NoExo","t":"band","s":"Impaired","x":34,"x2":41,"y":0.92},
  {"p":"1. NoExo","t":"band","s":"Impaired","x":53,"x2":58.5,"y":1},
  {"p":"1. NoExo","t":"band","s":"Sound","x":17.5,"x2":21,"y":0.92},
  {"p":"1. NoExo","t":"band","s":"Sound","x":58.5,"x2":66.5,"y":0.92},
  {"p":"1. NoExo","t":"band","s":"Sound","x":71,"x2":75,"y":1},
  {"p":"2. Free","t":"band","s":"Impaired","x":10,"x2":13,"y":0.92},
  {"p":"2. Free","t":"band","s":"Impaired","x":30,"x2":35,"y":0.92},
  {"p":"2. Free","t":"band","s":"Impaired","x":55.5,"x2":58.5,"y":1},
  {"p":"2. Free","t":"band","s":"Sound","x":23,"x2":27.5,"y":0.92},
  {"p":"2. Free","t":"band","s":"Sound","x":64,"x2":69.5,"y":0.92},
  {"p":"2. Free","t":"band","s":"Sound","x":76.5,"x2":79,"y":1},
  {"p":"3. Echo","t":"band","s":"Impaired","x":12,"x2":14.5,"y":0.92},
  {"p":"3. Echo","t":"band","s":"Impaired","x":37.5,"x2":41,"y":0.92},
  {"p":"3. Echo","t":"band","s":"Impaired","x":61,"x2":63.5,"y":1},
  {"p":"3. Echo","t":"band","s":"Sound","x":22.5,"x2":26,"y":0.92},
  {"p":"3. Echo","t":"band","s":"Sound","x":58.5,"x2":62,"y":0.92},
  {"p":"3. Echo","t":"band","s":"Sound","x":73.5,"x2":76,"y":1},
  {"p":"4. Pattern","t":"band","s":"Impaired","x":10.5,"x2":14.5,"y":0.92},
  {"p":"4. Pattern","t":"band","s":"Impaired","x":37.5,"x2":44,"y":0.92},
  {"p":"4. Pattern","t":"band","s":"Impaired","x":60,"x2":64.5,"y":1},
  {"p":"4. Pattern","t":"band","s":"Sound","x":21.5,"x2":24,"y":0.92},
  {"p":"4. Pattern","t":"band","s":"Sound","x":56,"x2":60,"y":0.92},
  {"p":"4. Pattern","t":"band","s":"Sound","x":71.5,"x2":73.5,"y":1},

  {"p":"1. NoExo","t":"line","s":"Sound","k":"Stance","i":1,"x":0,"y":1},{"p":"1. NoExo","t":"line","s":"Sound","k":"Stance","i":2,"x":74.5,"y":1},{"p":"1. NoExo","t":"line","s":"Sound","k":"Stance","i":3,"x":74.5,"y":0},{"p":"1. NoExo","t":"line","s":"Sound","k":"Stance","i":4,"x":100,"y":0},
  {"p":"1. NoExo","t":"line","s":"Sound","k":"Single","i":1,"x":19,"y":0},{"p":"1. NoExo","t":"line","s":"Sound","k":"Single","i":2,"x":19,"y":0.92},{"p":"1. NoExo","t":"line","s":"Sound","k":"Single","i":3,"x":62,"y":0.92},{"p":"1. NoExo","t":"line","s":"Sound","k":"Single","i":4,"x":62,"y":0},{"p":"1. NoExo","t":"line","s":"Sound","k":"Single","i":5,"x":100,"y":0},
  {"p":"1. NoExo","t":"line","s":"Impaired","k":"Stance","i":1,"x":0,"y":1},{"p":"1. NoExo","t":"line","s":"Impaired","k":"Stance","i":2,"x":56,"y":1},{"p":"1. NoExo","t":"line","s":"Impaired","k":"Stance","i":3,"x":56,"y":0},{"p":"1. NoExo","t":"line","s":"Impaired","k":"Stance","i":4,"x":100,"y":0},
  {"p":"1. NoExo","t":"line","s":"Impaired","k":"Single","i":1,"x":0,"y":0},{"p":"1. NoExo","t":"line","s":"Impaired","k":"Single","i":2,"x":12,"y":0},{"p":"1. NoExo","t":"line","s":"Impaired","k":"Single","i":3,"x":12,"y":0.92},{"p":"1. NoExo","t":"line","s":"Impaired","k":"Single","i":4,"x":37,"y":0.92},{"p":"1. NoExo","t":"line","s":"Impaired","k":"Single","i":5,"x":37,"y":0},{"p":"1. NoExo","t":"line","s":"Impaired","k":"Single","i":6,"x":100,"y":0},

  {"p":"2. Free","t":"line","s":"Sound","k":"Stance","i":1,"x":0,"y":1},{"p":"2. Free","t":"line","s":"Sound","k":"Stance","i":2,"x":78.3,"y":1},{"p":"2. Free","t":"line","s":"Sound","k":"Stance","i":3,"x":78.3,"y":0},{"p":"2. Free","t":"line","s":"Sound","k":"Stance","i":4,"x":100,"y":0},
  {"p":"2. Free","t":"line","s":"Sound","k":"Single","i":1,"x":24,"y":0},{"p":"2. Free","t":"line","s":"Sound","k":"Single","i":2,"x":24,"y":0.92},{"p":"2. Free","t":"line","s":"Sound","k":"Single","i":3,"x":66,"y":0.92},{"p":"2. Free","t":"line","s":"Sound","k":"Single","i":4,"x":66,"y":0},{"p":"2. Free","t":"line","s":"Sound","k":"Single","i":5,"x":100,"y":0},
  {"p":"2. Free","t":"line","s":"Impaired","k":"Stance","i":1,"x":0,"y":1},{"p":"2. Free","t":"line","s":"Impaired","k":"Stance","i":2,"x":58,"y":1},{"p":"2. Free","t":"line","s":"Impaired","k":"Stance","i":3,"x":58,"y":0},{"p":"2. Free","t":"line","s":"Impaired","k":"Stance","i":4,"x":100,"y":0},
  {"p":"2. Free","t":"line","s":"Impaired","k":"Single","i":1,"x":0,"y":0},{"p":"2. Free","t":"line","s":"Impaired","k":"Single","i":2,"x":11.5,"y":0},{"p":"2. Free","t":"line","s":"Impaired","k":"Single","i":3,"x":11.5,"y":0.92},{"p":"2. Free","t":"line","s":"Impaired","k":"Single","i":4,"x":34,"y":0.92},{"p":"2. Free","t":"line","s":"Impaired","k":"Single","i":5,"x":34,"y":0},{"p":"2. Free","t":"line","s":"Impaired","k":"Single","i":6,"x":100,"y":0},

  {"p":"3. Echo","t":"line","s":"Sound","k":"Stance","i":1,"x":0,"y":1},{"p":"3. Echo","t":"line","s":"Sound","k":"Stance","i":2,"x":73.4,"y":1},{"p":"3. Echo","t":"line","s":"Sound","k":"Stance","i":3,"x":73.4,"y":0},{"p":"3. Echo","t":"line","s":"Sound","k":"Stance","i":4,"x":100,"y":0},
  {"p":"3. Echo","t":"line","s":"Sound","k":"Single","i":1,"x":23.9,"y":0},{"p":"3. Echo","t":"line","s":"Sound","k":"Single","i":2,"x":23.9,"y":0.92},{"p":"3. Echo","t":"line","s":"Sound","k":"Single","i":3,"x":60.5,"y":0.92},{"p":"3. Echo","t":"line","s":"Sound","k":"Single","i":4,"x":60.5,"y":0},{"p":"3. Echo","t":"line","s":"Sound","k":"Single","i":5,"x":100,"y":0},
  {"p":"3. Echo","t":"line","s":"Impaired","k":"Stance","i":1,"x":0,"y":1},{"p":"3. Echo","t":"line","s":"Impaired","k":"Stance","i":2,"x":63.4,"y":1},{"p":"3. Echo","t":"line","s":"Impaired","k":"Stance","i":3,"x":63.4,"y":0},{"p":"3. Echo","t":"line","s":"Impaired","k":"Stance","i":4,"x":100,"y":0},
  {"p":"3. Echo","t":"line","s":"Impaired","k":"Single","i":1,"x":0,"y":0},{"p":"3. Echo","t":"line","s":"Impaired","k":"Single","i":2,"x":12.9,"y":0},{"p":"3. Echo","t":"line","s":"Impaired","k":"Single","i":3,"x":12.9,"y":0.92},{"p":"3. Echo","t":"line","s":"Impaired","k":"Single","i":4,"x":39.5,"y":0.92},{"p":"3. Echo","t":"line","s":"Impaired","k":"Single","i":5,"x":39.5,"y":0},{"p":"3. Echo","t":"line","s":"Impaired","k":"Single","i":6,"x":100,"y":0},

  {"p":"4. Pattern","t":"line","s":"Sound","k":"Stance","i":1,"x":0,"y":1},{"p":"4. Pattern","t":"line","s":"Sound","k":"Stance","i":2,"x":72.5,"y":1},{"p":"4. Pattern","t":"line","s":"Sound","k":"Stance","i":3,"x":72.5,"y":0},{"p":"4. Pattern","t":"line","s":"Sound","k":"Stance","i":4,"x":100,"y":0},
  {"p":"4. Pattern","t":"line","s":"Sound","k":"Single","i":1,"x":22.6,"y":0},{"p":"4. Pattern","t":"line","s":"Sound","k":"Single","i":2,"x":22.6,"y":0.92},{"p":"4. Pattern","t":"line","s":"Sound","k":"Single","i":3,"x":59.5,"y":0.92},{"p":"4. Pattern","t":"line","s":"Sound","k":"Single","i":4,"x":59.5,"y":0},{"p":"4. Pattern","t":"line","s":"Sound","k":"Single","i":5,"x":100,"y":0},
  {"p":"4. Pattern","t":"line","s":"Impaired","k":"Stance","i":1,"x":0,"y":1},{"p":"4. Pattern","t":"line","s":"Impaired","k":"Stance","i":2,"x":63,"y":1},{"p":"4. Pattern","t":"line","s":"Impaired","k":"Stance","i":3,"x":63,"y":0},{"p":"4. Pattern","t":"line","s":"Impaired","k":"Stance","i":4,"x":100,"y":0},
  {"p":"4. Pattern","t":"line","s":"Impaired","k":"Single","i":1,"x":0,"y":0},{"p":"4. Pattern","t":"line","s":"Impaired","k":"Single","i":2,"x":12.3,"y":0},{"p":"4. Pattern","t":"line","s":"Impaired","k":"Single","i":3,"x":12.3,"y":0.92},{"p":"4. Pattern","t":"line","s":"Impaired","k":"Single","i":4,"x":40.5,"y":0.92},{"p":"4. Pattern","t":"line","s":"Impaired","k":"Single","i":5,"x":40.5,"y":0},{"p":"4. Pattern","t":"line","s":"Impaired","k":"Single","i":6,"x":100,"y":0}
 ],
 "lga": [
  {"k":"a1","t":"Impaired Leg","sym":"head"},{"k":"a2","t":"Median","s":"Impaired","sym":"line"},{"k":"a3","t":"10-90 Percentiles","s":"Impaired","sym":"band"},
  {"k":"a4","t":"Sound Leg","sym":"head"},{"k":"a5","t":"Median","s":"Sound","sym":"line"},{"k":"a6","t":"10-90 Percentiles","s":"Sound","sym":"band"},
  {"k":"a7","t":"Set Point","sym":"head"},{"k":"a8","t":"Median","s":"SetPoint","sym":"line"},{"k":"a9","t":"10-90 Percentiles","s":"SetPoint","sym":"band"}
 ],
 "lgb": [
  {"k":"b1","t":"Impaired Leg","sym":"head"},{"k":"b2","t":"Median","s":"Impaired","sym":"line"},{"k":"b3","t":"All steps","s":"Impaired","sym":"band"},
  {"k":"b4","t":"Sound Leg","sym":"head"},{"k":"b5","t":"Median","s":"Sound","sym":"line"},{"k":"b6","t":"All steps","s":"Sound","sym":"band"},
  {"k":"b7","t":"Set Point","sym":"head"},{"k":"b8","t":"Median","s":"SetPoint","sym":"line"},{"k":"b9","t":"All steps","s":"SetPoint","sym":"band"}
 ],
 "lgc": [
  {"k":"c01","t":"Impaired Leg","sym":"head"},{"k":"c02","t":"Median Stance","s":"Impaired","sym":"line"},{"k":"c03","t":"Median Single","s":"Impaired","sym":"dash"},{"k":"c04","t":"Support","sym":"none"},{"k":"c05","t":"10-90 Percentiles","s":"Impaired","sym":"band"},
  {"k":"c06","t":"Sound Leg","sym":"head"},{"k":"c07","t":"Median","s":"Sound","sym":"line"},{"k":"c08","t":"Median Single","s":"Sound","sym":"dash"},{"k":"c09","t":"Support","sym":"none"},{"k":"c10","t":"10-90 Percentiles","s":"Sound","sym":"band"}
 ]
},
"spacing": 20,
"resolve": {"scale": {"x": "independent", "y": "independent"}},
"vconcat": [
 {
  "spacing": 37,
  "resolve": {"scale": {"x": "independent", "y": "independent"}},
  "hconcat": [
   {
    "data": {"name": "kf"},
    "title": {"text": "a. Knee Flexion", "orient": "left", "anchor": "middle", "frame": "bounds", "offset": 22},
    "facet": {"column": {"field": "p", "type": "nominal", "sort": ["1. NoExo","2. Free","3. Echo","4. Pattern"], "header": {"title": null, "labelFontSize": 22, "labelFontWeight": "bold", "labelColor": "#000000", "labelFont": "Liberation Sans", "labelPadding": 6}}},
    "spacing": 25,
    "resolve": {"axis": {"y": "independent", "x": "independent"}},
    "spec": {
     "width": 136, "height": 177,
     "encoding": {
      "x": {"field": "x", "type": "quantitative", "scale": {"domain": [0,100], "nice": false}, "axis": {"values": [0,50,100], "title": "Gait Cycle (%)"}},
      "color": {"field": "s", "type": "nominal", "scale": {"domain": ["Impaired","Sound","SetPoint"], "range": ["#1ab5cf","#f7941d","#80615c"]}, "legend": null}
     },
     "layer": [
      {"mark": {"type": "area", "opacity": 0.25, "interpolate": "monotone"},
       "encoding": {"y": {"field": "lo", "type": "quantitative", "stack": null, "scale": {"domain": [-2.5,60], "nice": false, "zero": false}, "axis": {"values": [0,20,40,60], "title": "Angle (º)"}}, "y2": {"field": "hi"}}},
      {"mark": {"type": "line", "strokeWidth": 2.5, "interpolate": "monotone"},
       "encoding": {"y": {"field": "y", "type": "quantitative", "axis": {"values": [0,20,40,60], "title": "Angle (º)"}}}}
     ]
    }
   },
   {
    "data": {"name": "lga"},
    "width": 178, "height": 187,
    "encoding": {"y": {"field": "k", "type": "ordinal", "scale": {"type": "point", "padding": 0.5, "domain": ["a1","a2","a3","a4","a5","a6","a7","a8","a9"]}, "axis": null}},
    "layer": [
     {"mark": {"type": "rect", "fill": null, "stroke": "#222222", "strokeWidth": 1, "yOffset": 0.6, "y2Offset": 21.4},
      "encoding": {"x": {"datum": 0, "type": "quantitative", "scale": {"domain": [0,178], "nice": false, "zero": false}, "axis": null}, "x2": {"datum": 178}, "y": {"datum": "a1"}, "y2": {"datum": "a9"}}},
     {"transform": [{"filter": "datum.sym == 'band'"}], "mark": {"type": "rule", "strokeWidth": 14, "opacity": 0.25, "strokeCap": "butt", "yOffset": 11},
      "encoding": {"x": {"datum": 5, "type": "quantitative"}, "x2": {"datum": 40},
       "color": {"field": "s", "type": "nominal", "scale": {"domain": ["Impaired","Sound","SetPoint"], "range": ["#1ab5cf","#f7941d","#80615c"]}, "legend": null}}},
     {"transform": [{"filter": "datum.sym == 'line'"}], "mark": {"type": "rule", "strokeWidth": 2.5, "yOffset": 11},
      "encoding": {"x": {"datum": 5, "type": "quantitative"}, "x2": {"datum": 40}, "color": {"field": "s", "type": "nominal", "legend": null}}},
     {"transform": [{"filter": "datum.sym == 'head'"}], "mark": {"type": "text", "align": "left", "fontSize": 17, "color": "#262626", "yOffset": 11},
      "encoding": {"x": {"datum": 5, "type": "quantitative"}, "text": {"field": "t"}}},
     {"transform": [{"filter": "datum.sym != 'head'"}], "mark": {"type": "text", "align": "left", "fontSize": 17, "color": "#262626", "yOffset": 11},
      "encoding": {"x": {"datum": 42, "type": "quantitative"}, "text": {"field": "t"}}}
    ]
   }
  ]
 },
 {
  "spacing": 67,
  "resolve": {"scale": {"x": "independent", "y": "independent"}},
  "hconcat": [
   {
    "data": {"name": "pp"},
    "title": {"text": "b. Knee Phase Portrait", "orient": "left", "anchor": "middle", "frame": "bounds", "offset": 4},
    "facet": {"column": {"field": "p", "type": "nominal", "sort": ["1. NoExo","2. Free","3. Echo","4. Pattern"], "header": null}},
    "spacing": 11,
    "resolve": {"axis": {"y": "independent", "x": "independent"}},
    "spec": {
     "width": 138, "height": 177,
     "encoding": {
      "x": {"field": "a", "type": "quantitative", "scale": {"domain": [-2,60], "nice": false, "zero": false}, "axis": {"values": [0,20,40,60], "title": "Angle (º)"}},
      "y": {"field": "v", "type": "quantitative", "scale": {"domain": [-200,300], "nice": false, "zero": false}, "axis": {"values": [-200,-100,0,100,200,300], "title": "Velocity (º/s)", "labelExpr": "replace(datum.label, '−', '-')"}},
      "color": {"field": "s", "type": "nominal", "scale": {"domain": ["Impaired","Sound","SetPoint"], "range": ["#1ab5cf","#f7941d","#80615c"]}, "legend": null},
      "order": {"field": "i", "type": "quantitative"}
     },
     "layer": [
      {"mark": {"type": "line", "strokeWidth": 30, "opacity": 0.07, "interpolate": "cardinal-closed", "strokeJoin": "round", "strokeCap": "round"}},
      {"mark": {"type": "line", "strokeWidth": 16, "opacity": 0.12, "interpolate": "cardinal-closed", "strokeJoin": "round", "strokeCap": "round"}},
      {"mark": {"type": "line", "strokeWidth": 2.5, "interpolate": "cardinal-closed"}}
     ]
    }
   },
   {
    "data": {"name": "lgb"},
    "width": 125, "height": 196,
    "encoding": {"y": {"field": "k", "type": "ordinal", "scale": {"type": "point", "padding": 0.5, "domain": ["b1","b2","b3","b4","b5","b6","b7","b8","b9"]}, "axis": null}},
    "layer": [
     {"mark": {"type": "rect", "fill": null, "stroke": "#222222", "strokeWidth": 1, "yOffset": -2.9, "y2Offset": 18.9},
      "encoding": {"x": {"datum": 0, "type": "quantitative", "scale": {"domain": [0,125], "nice": false, "zero": false}, "axis": null}, "x2": {"datum": 125}, "y": {"datum": "b1"}, "y2": {"datum": "b9"}}},
     {"transform": [{"filter": "datum.sym == 'band'"}], "mark": {"type": "rule", "strokeWidth": 14, "opacity": 0.25, "strokeCap": "butt", "yOffset": 8},
      "encoding": {"x": {"datum": 7, "type": "quantitative"}, "x2": {"datum": 42},
       "color": {"field": "s", "type": "nominal", "scale": {"domain": ["Impaired","Sound","SetPoint"], "range": ["#1ab5cf","#f7941d","#80615c"]}, "legend": null}}},
     {"transform": [{"filter": "datum.sym == 'line'"}], "mark": {"type": "rule", "strokeWidth": 2.5, "yOffset": 8},
      "encoding": {"x": {"datum": 7, "type": "quantitative"}, "x2": {"datum": 42}, "color": {"field": "s", "type": "nominal", "legend": null}}},
     {"transform": [{"filter": "datum.sym == 'head'"}], "mark": {"type": "text", "align": "left", "fontSize": 17, "color": "#262626", "yOffset": 8},
      "encoding": {"x": {"datum": 8, "type": "quantitative"}, "text": {"field": "t"}}},
     {"transform": [{"filter": "datum.sym != 'head'"}], "mark": {"type": "text", "align": "left", "fontSize": 17, "color": "#262626", "yOffset": 8},
      "encoding": {"x": {"datum": 55, "type": "quantitative"}, "text": {"field": "t"}}}
    ]
   }
  ]
 },
 {
  "spacing": 30,
  "resolve": {"scale": {"x": "independent", "y": "independent"}},
  "hconcat": [
   {
    "data": {"name": "fc"},
    "title": {"text": "c. Floor Contact", "orient": "left", "anchor": "middle", "frame": "bounds", "offset": 12},
    "facet": {"column": {"field": "p", "type": "nominal", "sort": ["1. NoExo","2. Free","3. Echo","4. Pattern"], "header": null}},
    "spacing": 17,
    "resolve": {"axis": {"y": "independent", "x": "independent"}},
    "spec": {
     "width": 136, "height": 177,
     "encoding": {
      "x": {"field": "x", "type": "quantitative", "scale": {"domain": [0,100], "nice": false}, "axis": {"values": [0,50,100], "title": "Gait Cycle (%)"}},
      "color": {"field": "s", "type": "nominal", "scale": {"domain": ["Impaired","Sound","SetPoint"], "range": ["#1ab5cf","#f7941d","#80615c"]}, "legend": null}
     },
     "layer": [
      {"transform": [{"filter": "datum.t == 'band'"}],
       "mark": {"type": "rect", "opacity": 0.25},
       "encoding": {"x2": {"field": "x2"}, "y": {"field": "y", "type": "quantitative", "scale": {"domain": [0,1], "nice": false, "zero": false}, "axis": {"values": [0,1], "title": null, "labelExpr": "datum.value == 1 ? 'Stance' : 'Swing'", "labelAngle": -30, "labelAlign": "right", "labelBaseline": "middle"}}, "y2": {"datum": 0}}},
      {"transform": [{"filter": "datum.t == 'line'"}],
       "mark": {"type": "line", "strokeWidth": 2.5},
       "encoding": {"y": {"field": "y", "type": "quantitative", "axis": {"values": [0,1], "title": null, "labelExpr": "datum.value == 1 ? 'Stance' : 'Swing'", "labelAngle": -30, "labelAlign": "right", "labelBaseline": "middle"}},
        "strokeDash": {"field": "k", "type": "nominal", "scale": {"domain": ["Stance","Single"], "range": [[1,0],[12,7]]}, "legend": null},
        "order": {"field": "i", "type": "quantitative"}}}
     ]
    }
   },
   {
    "data": {"name": "lgc"},
    "width": 178, "height": 203,
    "encoding": {"y": {"field": "k", "type": "ordinal", "scale": {"type": "point", "padding": 0.5, "domain": ["c01","c02","c03","c04","c05","c06","c07","c08","c09","c10"]}, "axis": null}},
    "layer": [
     {"mark": {"type": "rect", "fill": null, "stroke": "#222222", "strokeWidth": 1, "yOffset": -4.15, "y2Offset": 16.15},
      "encoding": {"x": {"datum": 0, "type": "quantitative", "scale": {"domain": [0,178], "nice": false, "zero": false}, "axis": null}, "x2": {"datum": 178}, "y": {"datum": "c01"}, "y2": {"datum": "c10"}}},
     {"transform": [{"filter": "datum.sym == 'band'"}], "mark": {"type": "rule", "strokeWidth": 14, "opacity": 0.25, "strokeCap": "butt", "yOffset": 6},
      "encoding": {"x": {"datum": 5, "type": "quantitative"}, "x2": {"datum": 40},
       "color": {"field": "s", "type": "nominal", "scale": {"domain": ["Impaired","Sound","SetPoint"], "range": ["#1ab5cf","#f7941d","#80615c"]}, "legend": null}}},
     {"transform": [{"filter": "datum.sym == 'line'"}], "mark": {"type": "rule", "strokeWidth": 2.5, "yOffset": 6},
      "encoding": {"x": {"datum": 5, "type": "quantitative"}, "x2": {"datum": 40}, "color": {"field": "s", "type": "nominal", "legend": null}}},
     {"transform": [{"filter": "datum.sym == 'dash'"}], "mark": {"type": "rule", "strokeWidth": 2.5, "strokeDash": [9,6], "yOffset": 16},
      "encoding": {"x": {"datum": 5, "type": "quantitative"}, "x2": {"datum": 40}, "color": {"field": "s", "type": "nominal", "legend": null}}},
     {"transform": [{"filter": "datum.sym == 'head'"}], "mark": {"type": "text", "align": "left", "fontSize": 17, "color": "#262626", "yOffset": 6},
      "encoding": {"x": {"datum": 6, "type": "quantitative"}, "text": {"field": "t"}}},
     {"transform": [{"filter": "datum.sym != 'head'"}], "mark": {"type": "text", "align": "left", "fontSize": 17, "color": "#262626", "yOffset": 6},
      "encoding": {"x": {"datum": 42, "type": "quantitative"}, "text": {"field": "t"}}}
    ]
   }
  ]
 }
]
}
